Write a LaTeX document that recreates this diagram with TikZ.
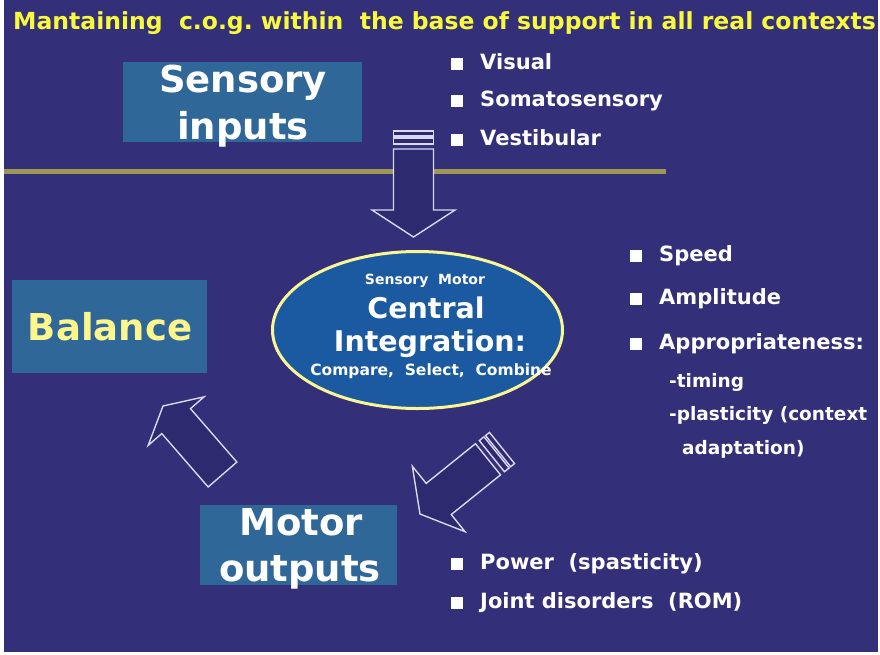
\documentclass[tikz,border=0pt]{standalone}
\usepackage{fontspec}
\setmainfont{DejaVu Sans}
\usetikzlibrary{calc,shapes.geometric}

\definecolor{slidebg}{RGB}{51,47,121}
\definecolor{boxblue}{RGB}{48,103,153}
\definecolor{ovalblue}{RGB}{27,90,160}
\definecolor{ovalrim}{RGB}{250,246,150}
\definecolor{rulecol}{RGB}{158,150,84}
\definecolor{titleyel}{RGB}{250,250,60}
\definecolor{balyel}{RGB}{252,246,140}
\definecolor{arrowline}{RGB}{218,216,238}
\definecolor{arrowfill}{RGB}{46,42,112}

% white square bullet
\newcommand\sqbul{{\color{white}\rule{12pt}{12pt}}}

% block arrow: tail, tip, shaft half-width, head half-width, head length
\newcommand\blockarrow[5]{%
  \coordinate (ba-b) at ($(#2)!#5!(#1)$);
  \draw[arrowshape]
    ($(#1)!#3!90:(#2)$) -- ($(ba-b)!#3!-90:(#1)$) -- ($(ba-b)!#4!-90:(#1)$)
    -- (#2) -- ($(ba-b)!#4!90:(#1)$) -- ($(ba-b)!#3!90:(#1)$)
    -- ($(#1)!#3!-90:(#2)$) -- cycle;}
% thin bar across an arrow shaft, between distances #3 and #4 from the tail
\newcommand\shaftbar[5]{%
  \coordinate (sb-a) at ($(#1)!#3!(#2)$);
  \coordinate (sb-b) at ($(#1)!#4!(#2)$);
  \draw[arrowshape] ($(sb-a)!#5!90:(#2)$) -- ($(sb-b)!#5!90:(#2)$)
    -- ($(sb-b)!#5!-90:(#2)$) -- ($(sb-a)!#5!-90:(#2)$) -- cycle;}

\tikzset{
  arrowshape/.style={draw=arrowline, fill=arrowfill, line width=1.4pt, line join=miter},
  titlebox/.style={fill=boxblue, inner sep=0pt},
  bigword/.style={font=\bfseries\fontsize{37}{40}\selectfont, inner sep=0pt, text=white},
  ovaltext/.style={inner sep=0pt, text=white},
  item/.style={anchor=west, inner sep=0pt, font=\bfseries\fontsize{21}{24}\selectfont, text=white},
  subitem/.style={item, font=\bfseries\fontsize{18.5}{22}\selectfont},
}

\begin{document}
\begin{tikzpicture}[x=1pt, y=-1pt]
  \useasboundingbox (0,0) rectangle (880,654);
  \fill[white] (0,0) rectangle (880,654);
  \fill[slidebg] (4,0) rectangle (878,652);

  % heading
  \node[anchor=west, inner sep=0pt, text=titleyel, font=\bfseries\fontsize{23.5}{26}\selectfont] (head) at (13,23.5)
    {Mantaining\ \ c.o.g.\ within\ \ the base of support in all real contexts};

  % separating rule
  \coordinate (ruleL) at (4,171);
  \coordinate (ruleR) at (666,171);
  \draw[rulecol, line width=5pt] (ruleL) -- (ruleR);

  % boxes
  \node[titlebox, minimum width=239pt, minimum height=80pt] (sens) at (242.5,102) {};
  \node[bigword] (sens1) at (243,83) {Sensory};
  \node[bigword] (sens2) at (243,129) {inputs};

  \node[titlebox, minimum width=195pt, minimum height=93pt] (bal) at (109.5,326.5) {};
  \node[bigword, text=balyel] (baltext) at (110,327) {Balance};

  \node[titlebox, minimum width=197pt, minimum height=80pt] (mot) at (298.5,545) {};
  \node[bigword] (mot1) at (301,522) {Motor};
  \node[bigword] (mot2) at (300,572) {outputs};

  % central oval
  \node[ellipse, fill=ovalblue, draw=ovalrim, line width=3pt, minimum width=290pt, minimum height=157pt] (cen) at (417.5,330) {};
  \node[ovaltext, font=\bfseries\fontsize{14}{16}\selectfont] (cen1) at (425,281) {Sensory\ \ Motor};
  \node[ovaltext, font=\bfseries\fontsize{28.5}{32}\selectfont] (cen2) at (426,308) {Central};
  \node[ovaltext, font=\bfseries\fontsize{28.5}{32}\selectfont] (cen3) at (430,344) {Integration:};
  \node[ovaltext, font=\bfseries\fontsize{15.5}{18}\selectfont] (cen4) at (431,371) {Compare,\ \ Select,\ \ Combine};

  % sensory items
  \node[item] (v1) at (451,62) {\sqbul\hspace{17pt}Visual};
  \node[item] (v2) at (451,101) {\sqbul\hspace{17pt}Somatosensory};
  \node[item] (v3) at (451,138) {\sqbul\hspace{17pt}Vestibular};

  % integration items
  \node[item] (s1) at (630,256) {\sqbul\hspace{17pt}Speed};
  \node[item] (s2) at (630,299) {\sqbul\hspace{17pt}Amplitude};
  \node[item] (s3) at (630,344) {\sqbul\hspace{17pt}Appropriateness:};
  \node[subitem] (s4) at (669,382) {-timing};
  \node[subitem] (s5) at (669,415) {-plasticity (context};
  \node[subitem] (s6) at (682,449) {adaptation)};

  % motor items
  \node[item] (m1) at (451,564) {\sqbul\hspace{17pt}Power\ \ (spasticity)};
  \node[item] (m2) at (451,603) {\sqbul\hspace{17pt}Joint disorders\ \ (ROM)};

  % sensory -> integration
  \coordinate (a1t) at (413.5,131);
  \coordinate (a1b) at (413.5,149);
  \coordinate (a1p) at (413.5,237);
  \shaftbar{a1t}{a1p}{0pt}{5pt}{20pt}
  \shaftbar{a1t}{a1p}{7pt}{13pt}{20pt}
  \blockarrow{a1b}{a1p}{20pt}{41.5pt}{27pt}

  % integration -> motor
  \coordinate (a2t) at (502,448);
  \coordinate (a2p) at (420,514);
  \coordinate (a2b) at ($(a2t)!18pt!(a2p)$);
  \shaftbar{a2t}{a2p}{0pt}{5pt}{20pt}
  \shaftbar{a2t}{a2p}{7pt}{13pt}{20pt}
  \blockarrow{a2b}{a2p}{20pt}{42pt}{24pt}

  % motor -> balance
  \coordinate (a3t) at (222.5,474.5);
  \coordinate (a3p) at (163,406);
  \blockarrow{a3t}{a3p}{19pt}{37pt}{20pt}
\end{tikzpicture}
\end{document}
